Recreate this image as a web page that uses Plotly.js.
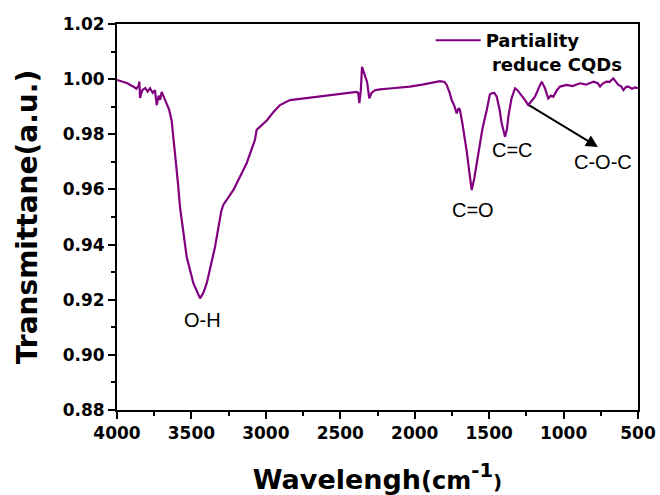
<!DOCTYPE html>
<html>
<head>
<meta charset="utf-8">
<script src="https://cdn.plot.ly/plotly-3.0.1.min.js"></script>
<style>html,body{margin:0;padding:0;background:#fff;}#chart{width:660px;height:495px;}</style>
</head>
<body>
<div id="chart"></div>
<script>
const wavenumber = [4000,3960,3930,3900,3890,3870,3855,3850,3845,3830,3810,3795,3778,3760,3745,3733,3720,3710,3700,3685,3666,3650,3633,3610,3590,3577,3532,3487,3442,3420,3397,3342,3300,3286,3218,3129,3073,3062,2994,2950,2905,2838,2750,2658,2550,2450,2390,2380,2372,2362,2354,2345,2334,2320,2305,2290,2267,2233,2150,2032,1950,1880,1830,1800,1785,1765,1752,1735,1718,1705,1696,1680,1651,1630,1617,1600,1573,1545,1516,1495,1483,1465,1449,1430,1416,1400,1393,1380,1371,1350,1326,1310,1293,1259,1237,1215,1192,1165,1147,1125,1103,1085,1069,1045,1024,979,940,890,850,800,770,755,735,711,690,666,650,632,615,598,580,565,540,520,500];
const transmittance = [0.9997,0.9990,0.9985,0.9975,0.9973,0.9965,0.9975,0.9991,0.9932,0.9960,0.9968,0.9955,0.9967,0.9950,0.9960,0.9906,0.9940,0.9925,0.9954,0.9935,0.9913,0.9890,0.9850,0.9740,0.9620,0.9537,0.9356,0.9260,0.9205,0.9225,0.9260,0.9390,0.9520,0.9544,0.9598,0.9695,0.9780,0.9816,0.9850,0.9880,0.9906,0.9924,0.9930,0.9934,0.9942,0.9950,0.9954,0.9950,0.9913,0.9960,1.0045,1.0030,1.0010,0.9990,0.9930,0.9950,0.9960,0.9963,0.9967,0.9973,0.9980,0.9988,0.9993,0.9990,0.9979,0.9950,0.9924,0.9905,0.9876,0.9895,0.9888,0.9840,0.9740,0.9650,0.9598,0.9640,0.9730,0.9820,0.9888,0.9945,0.9949,0.9950,0.9936,0.9890,0.9840,0.9800,0.9791,0.9820,0.9864,0.9930,0.9967,0.9960,0.9949,0.9924,0.9906,0.9920,0.9936,0.9970,0.9991,0.9967,0.9930,0.9940,0.9936,0.9960,0.9973,0.9979,0.9975,0.9985,0.9980,0.9991,0.9985,0.9973,0.9985,0.9991,0.9990,1.0003,0.9990,0.9979,0.9975,0.9960,0.9972,0.9973,0.9965,0.9970,0.9967];
const seriesName = "Partiality<br> reduce CQDs";
const peakLabels = ["O-H","C=O","C=C","C-O-C"];
const peakX = [3429,1608,1346,735];
const peakY = [0.9126,0.9525,0.9743,0.9700];
const xTicks = [4000,3500,3000,2500,2000,1500,1000,500];
const yTicks = [0.88,0.90,0.92,0.94,0.96,0.98,1.00,1.02];

const wide = "DejaVu Sans, sans-serif";
const arial = "Liberation Sans, Arial, sans-serif";
const annotations = peakLabels.map((t,i)=>({
  x: peakX[i], y: peakY[i], xref:'x', yref:'y', text: t, showarrow:false,
  font:{family:arial, size:20, color:'#000'}
}));
annotations.push({
  x: 769, y: 0.9754, ax: 1240, ay: 0.9908, xref:'x', yref:'y', axref:'x', ayref:'y',
  text:'', showarrow:true, arrowhead:2, arrowsize:1.2, arrowwidth:2, arrowcolor:'#000'
});

const trace = {
  x: wavenumber, y: transmittance, type:'scatter', mode:'lines', name: seriesName,
  line:{color:'#800080', width:2.2}
};

const axisCommon = {
  showline:true, linecolor:'#000', linewidth:2, mirror:true,
  ticks:'outside', ticklen:7, tickwidth:2, tickcolor:'#000',
  showgrid:false, zeroline:false,
  tickfont:{family:wide, size:17, color:'#000', weight:'bold'}
};

const layout = {
  width:660, height:495,
  margin:{l:117, r:22, t:24, b:85},
  paper_bgcolor:'#fff', plot_bgcolor:'#fff',
  showlegend:true,
  legend:{x:0.602, y:1.005, xanchor:'left', yanchor:'top', bgcolor:'rgba(0,0,0,0)',
    valign:'top', itemwidth:45, tracegroupgap:0,
    font:{family:wide, size:18, color:'#000', weight:'bold'}},
  xaxis: Object.assign({}, axisCommon, {
    range:[4000,500], tickvals:xTicks, ticktext:xTicks.map(String),
    minor:{dtick:250, ticks:'outside', ticklen:4, tickwidth:2, tickcolor:'#000'},
    title:{text:'Wavelengh<span style="font-size:24px">(cm</span><span style="font-size:28px"><sup>-1</sup></span><span style="font-size:20px">)</span>', font:{family:wide, size:27, color:'#000', weight:'bold'}, standoff:28}
  }),
  yaxis: Object.assign({}, axisCommon, {
    range:[0.88,1.02], tickvals:yTicks, ticktext:yTicks.map(v=>v.toFixed(2)),
    minor:{dtick:0.01, ticks:'outside', ticklen:4, tickwidth:2, tickcolor:'#000'},
    title:{text:'Transmittane(a.u.)', font:{family:wide, size:28, color:'#000', weight:'bold'}, standoff:17}
  }),
  annotations: annotations
};

Plotly.newPlot('chart', [trace], layout, {displayModeBar:false, staticPlot:true});
</script>
</body>
</html>
